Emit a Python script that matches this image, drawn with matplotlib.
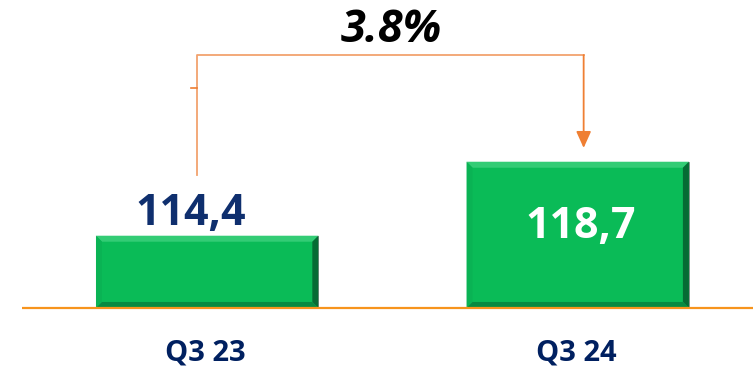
import matplotlib.pyplot as plt
from matplotlib.patches import Polygon

# quarterly values
periods = ['Q3 23', 'Q3 24']
values = [114.4, 118.7]
value_labels = ['114,4', '118,7']
growth_label = '3.8%'

floor = 110.2          # value axis starts here, not at zero
bar_w = 0.6

fig = plt.figure(figsize=(7.53, 3.67), dpi=100)
ax = fig.add_axes([0, 0, 1, 1])
ax.set_xlim(-0.559, 1.473)
ax.set_ylim(106.77, 128.1)
ax.axis('off')

x = [0, 1]
bars = ax.bar(x, [v - floor for v in values], bottom=floor, width=bar_w,
              color='#0abb57', edgecolor='#8a8a8a', linewidth=0.6, zorder=3)


def px(dx, dy):
    inv = ax.transData.inverted()
    a = inv.transform((0, 0))
    b = inv.transform((dx, dy))
    return b[0] - a[0], b[1] - a[1]


# bevelled edges on each bar
bx, by = px(6, 6)
for r in bars:
    x0, y0 = r.get_x(), r.get_y()
    x1, y1 = x0 + r.get_width(), y0 + r.get_height()
    sides = [
        ([(x0, y1), (x1, y1), (x1 - bx, y1 - by), (x0 + bx, y1 - by)], '#33cc75'),
        ([(x0, y0), (x0, y1), (x0 + bx, y1 - by), (x0 + bx, y0 + by)], '#0ab354'),
        ([(x1, y0), (x1, y1), (x1 - bx, y1 - by), (x1 - bx, y0 + by)], '#066b34'),
        ([(x0, y0), (x1, y0), (x1 - bx, y0 + by), (x0 + bx, y0 + by)], '#078a41'),
    ]
    for pts, c in sides:
        ax.add_patch(Polygon(pts, closed=True, facecolor=c, edgecolor='none', zorder=4))

# baseline
ax.plot([-0.50, 1.473], [floor, floor], color='#f7941d', lw=1.6, zorder=5, solid_capstyle='butt')

# value labels
ax.annotate(value_labels[0], (x[0], values[0]), xytext=(-12, 8), textcoords='offset points',
            ha='center', va='baseline', fontsize=31, fontweight='bold',
            family='Open Sans', color='#0f2f6e', zorder=6)
ax.text(x[1] + 0.008, values[1] - 3.75, value_labels[1], ha='center', va='center',
        fontsize=31, fontweight='bold', family='Open Sans', color='white', zorder=6)

# category labels
for xi, p in zip(x, periods):
    ax.text(xi - 0.005, floor - 2.6, p, ha='center', va='center', fontsize=21,
            fontweight='bold', family='Open Sans', color='#002060')

# growth bracket
top = 124.9
dx1, _ = px(-10, 0)
left_x = x[0] + dx1
right_x = x[1] + 0.016
ax.plot([left_x, left_x, right_x], [values[0] + 3.5, top, top], color='#f2a36e',
        lw=1.3, zorder=2)
ax.plot([left_x - 0.016, left_x], [123.0, 123.0], color='#ed7d31', lw=1.2)
ax.annotate('', xy=(right_x, values[1] + 0.8), xytext=(right_x, top),
            arrowprops=dict(arrowstyle='-|>,head_length=1.0,head_width=0.45',
                            color='#ef7f33', lw=1.3, shrinkA=0, shrinkB=0))
ax.text((x[0] + x[1]) / 2 - 0.004, 126.3, growth_label, ha='center', va='center',
        fontsize=32.5, fontweight='bold', style='italic', family='Open Sans', color='black')

fig.savefig('out.png', dpi=100)
